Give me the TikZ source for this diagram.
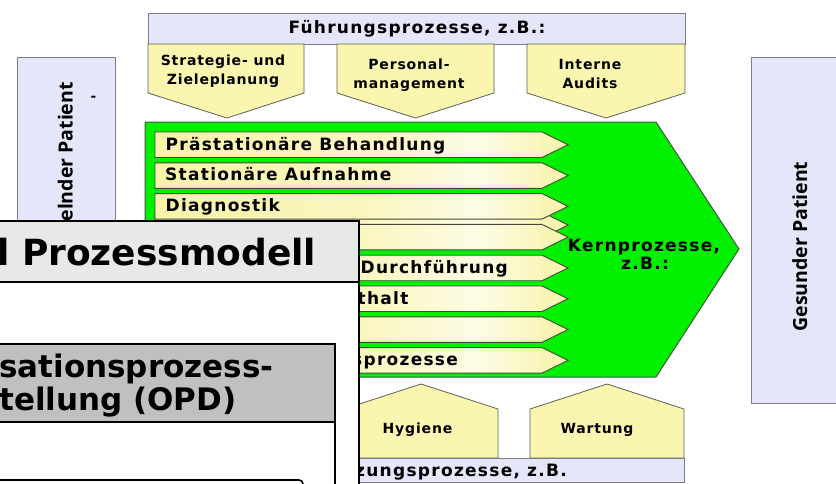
\documentclass[tikz,border=0pt]{standalone}
\usepackage{fontspec}
\setmainfont{DejaVu Sans}
\newfontfamily\lblfont{DejaVu Sans}[LetterSpace=7.5]
\newfontfamily\smallfont{DejaVu Sans}[LetterSpace=6]
\newfontfamily\winfont{DejaVu Sans}
\newfontfamily\sidefont{Open Sans}

\definecolor{lav}{RGB}{230,230,250}
\definecolor{lavline}{RGB}{125,125,130}
\definecolor{penty}{RGB}{250,246,176}
\definecolor{pentline}{RGB}{95,95,85}
\definecolor{rowY}{RGB}{248,243,168}
\definecolor{rowline}{RGB}{70,70,60}
\definecolor{kerngreen}{RGB}{0,240,0}
\definecolor{kernline}{RGB}{60,90,60}
\definecolor{titlegray}{RGB}{232,232,232}
\definecolor{panelgray}{RGB}{192,192,192}

% glossy fill of the process bars (25bp..75bp spans the bar)
\pgfdeclarehorizontalshading{rowshade}{100bp}{color(0bp)=(rowY); color(25bp)=(rowY); color(52bp)=(rowY!70!white); color(64bp)=(rowY!30!white); color(75bp)=(rowY); color(100bp)=(rowY)}

\tikzset{
  lbl/.style={inner sep=0pt, font=\lblfont\bfseries\fontsize{17}{19}\selectfont},
  smalllbl/.style={inner sep=0pt, font=\smallfont\bfseries\fontsize{14}{16}\selectfont},
  sidelbl/.style={inner sep=0pt, rotate=90, font=\sidefont\bfseries\fontsize{19.5}{23}\selectfont},
  bar/.style={fill=lav, draw=lavline, line width=1pt},
  pent/.style={fill=penty, draw=pentline, line width=0.8pt},
  rowarrow/.style={shading=rowshade, draw=rowline, line width=0.9pt},
  win/.style={draw=black, line width=1.6pt},
  wintitle/.style={inner sep=0pt, font=\winfont\bfseries\fontsize{36}{40}\selectfont},
  winhead/.style={inner sep=0pt, font=\winfont\bfseries\fontsize{31}{33}\selectfont},
}

\begin{document}
\begin{tikzpicture}[x=1pt,y=-1pt]
\clip (0,0) rectangle (836,483);
\fill[white] (0,0) rectangle (836,483);

% patient columns
\draw[bar] (17,57) rectangle (115,403);
\node[sidelbl, anchor=base east] (krank) at (72.5,82) {elnder Patient};
\node[inner sep=0pt, font=\sidefont\bfseries\fontsize{16}{18}\selectfont] (strich) at (93.5,98.5) {-};
\draw[bar] (751,57) rectangle (845,403);
\node[sidelbl, anchor=base] (gesund) at (807,246.5) {Gesunder Patient};

% management processes
\draw[bar] (148,13) rectangle (685,44);
\node[lbl, anchor=base] (fuehrung) at (417,33.5) {Führungsprozesse, z.B.:};
\draw[pent] (148,44) -- (304,44) -- (304,93) -- (227,118) -- (148,93) -- cycle;
\draw[pent] (337,44) -- (494,44) -- (494,93) -- (415.5,118) -- (337,93) -- cycle;
\draw[pent] (527,44) -- (685,44) -- (685,93) -- (606,118) -- (527,93) -- cycle;
\node[smalllbl, anchor=base] (strat1) at (223,65) {Strategie- und};
\node[smalllbl, anchor=base] (strat2) at (223,84.5) {Zieleplanung};
\node[smalllbl, anchor=base] (pers1) at (409,69.5) {Personal-};
\node[smalllbl, anchor=base] (pers2) at (409,88) {management};
\node[smalllbl, anchor=base] (audit1) at (590,69) {Interne};
\node[smalllbl, anchor=base] (audit2) at (590,88) {Audits};

% core processes
\draw[fill=kerngreen, draw=kernline, line width=1pt]
  (145,122) -- (656,122) -- (739,249) -- (656,377) -- (145,377) -- cycle;
\shadedraw[rowarrow] (155,212) -- (542,212) -- (568,225) -- (542,238) -- (155,238) -- cycle;
\foreach \i in {0,...,7}{
  \pgfmathsetmacro{\rt}{132+30.8*\i}
  \pgfmathsetmacro{\rm}{\rt+12.75}
  \pgfmathsetmacro{\rb}{\rt+25.5}
  \shadedraw[rowarrow] (155,\rt) -- (542,\rt) -- (568,\rm) -- (542,\rb) -- (155,\rb) -- cycle;
}
\node[lbl, anchor=base west] (vorstat) at (165.5,150) {Prästationäre Behandlung};
\node[lbl, anchor=base west] (aufnahme) at (165,180.8) {Stationäre Aufnahme};
\node[lbl, anchor=base west] (diagnostik) at (165.5,211.6) {Diagnostik};
\node[lbl, anchor=base west] (durchf) at (360.5,273.2) {Durchführung};
\node[lbl, anchor=base west] (aufenth) at (357.5,304) {thalt};
\node[lbl, anchor=base west] (entlass) at (352,365.6) {sprozesse};
\node[lbl, anchor=base] (kern) at (644,251) {Kernprozesse,};
\node[lbl, anchor=base] (kernzb) at (645,269.3) {z.B.:};

% support processes
\draw[pent] (344,458) -- (344,409) -- (421,384) -- (498,409) -- (498,458) -- cycle;
\draw[pent] (530,458) -- (530,409) -- (607,384) -- (684,409) -- (684,458) -- cycle;
\node[smalllbl, anchor=base] (hygiene) at (417.5,433) {Hygiene};
\node[smalllbl, anchor=base] (wartung) at (597,433) {Wartung};
\draw[bar] (148,458) rectangle (684,482);
\node[lbl, anchor=base west] (unterst) at (355,476) {zungsprozesse, z.B.};

% window in front
\fill[white] (-5,221) rectangle (359,490);
\fill[titlegray] (-5,221) rectangle (359,282);
\draw[win] (-5,221) -- (359,221) -- (359,490);
\draw[win] (-5,282) -- (359,282);
\node[wintitle, anchor=base west] (wtitel) at (-3,265) {l Prozessmodell};
\fill[panelgray] (-5,344) rectangle (335,422);
\draw[win] (-5,344) -- (335,344) -- (335,490);
\draw[win] (-5,422) -- (335,422);
\node[winhead, anchor=base west] (opd1) at (-1,377) {sationsprozess-};
\node[winhead, anchor=base west] (opd2) at (-1,410) {tellung (OPD)};
\draw[win, rounded corners=4pt] (-5,480) -- (303,480) -- (303,490);
\end{tikzpicture}
\end{document}
